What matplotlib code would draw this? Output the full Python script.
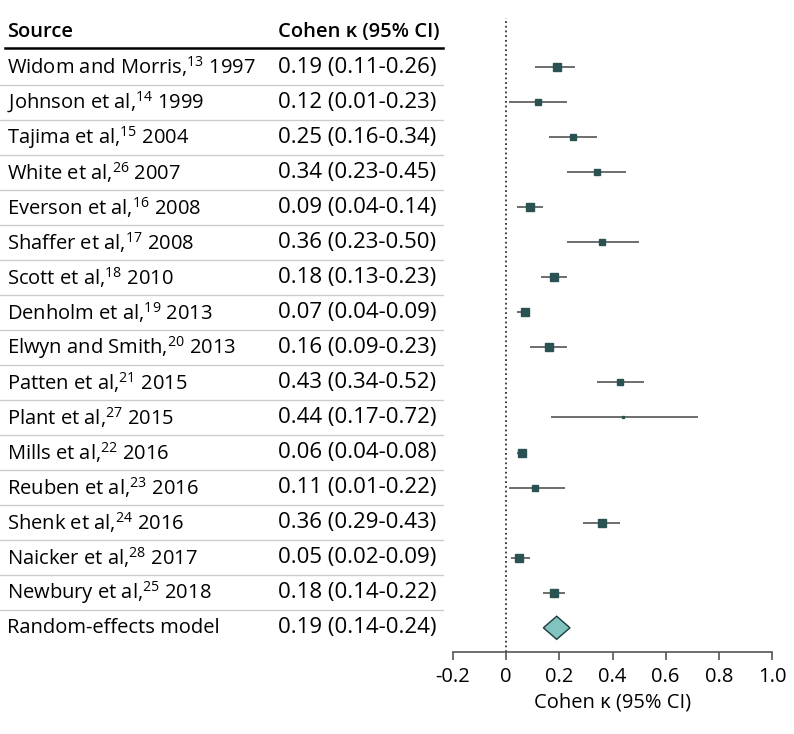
import numpy as np
import matplotlib
matplotlib.use('Agg')
import matplotlib.pyplot as plt
from matplotlib.lines import Line2D
from matplotlib.patches import Polygon
from matplotlib import transforms

# ----------------------------------------------------------------------
#  Datos
# ----------------------------------------------------------------------
sources = ['Widom and Morris', 'Johnson et al', 'Tajima et al', 'White et al',
           'Everson et al', 'Shaffer et al', 'Scott et al', 'Denholm et al',
           'Elwyn and Smith', 'Patten et al', 'Plant et al', 'Mills et al',
           'Reuben et al', 'Shenk et al', 'Naicker et al', 'Newbury et al']
refs = ['13', '14', '15', '26', '16', '17', '18', '19', '20', '21', '27',
        '22', '23', '24', '28', '25']
years = ['1997', '1999', '2004', '2007', '2008', '2008', '2010', '2013',
         '2013', '2015', '2015', '2016', '2016', '2016', '2017', '2018']
kappa = [0.19, 0.12, 0.25, 0.34, 0.09, 0.36, 0.18, 0.07, 0.16, 0.43, 0.44,
         0.06, 0.11, 0.36, 0.05, 0.18]
ci_low = [0.11, 0.01, 0.16, 0.23, 0.04, 0.23, 0.13, 0.04, 0.09, 0.34, 0.17,
          0.04, 0.01, 0.29, 0.02, 0.14]
ci_high = [0.26, 0.23, 0.34, 0.45, 0.14, 0.50, 0.23, 0.09, 0.23, 0.52, 0.72,
           0.08, 0.22, 0.43, 0.09, 0.22]
# tamaño aproximado del cuadrado (peso del estudio)
weights = [5.5, 5, 5, 4.3, 6, 4.3, 5.5, 6.2, 5.5, 5, 1.8, 6, 5, 5.5, 6, 5.8]

pooled_label = 'Random-effects model'
pooled = 0.19
pooled_low = 0.14
pooled_high = 0.24

xticks = [-0.2, 0, 0.2, 0.4, 0.6, 0.8, 1.0]
xtick_labels = ['-0.2', '0', '0.2', '0.4', '0.6', '0.8', '1.0']

plt.rcParams['font.family'] = ['Open Sans', 'DejaVu Sans']
plt.rcParams['mathtext.fontset'] = 'custom'
plt.rcParams['mathtext.rm'] = 'Open Sans'

W, H = 794, 734
fig = plt.figure(figsize=(W / 100, H / 100), dpi=100)

# eje del forest plot, en píxeles
row0, step = 67.0, 35.05
ax_top, ax_bot = 18.0, 652.0
ax_left, ax_right = 453.0, 772.0
ax = fig.add_axes([ax_left / W, 1 - ax_bot / H,
                   (ax_right - ax_left) / W, (ax_bot - ax_top) / H])
ax.set_xlim(-0.2, 1.0)
ax.set_ylim((ax_bot - row0) / step, (ax_top - row0) / step)
ax.patch.set_visible(False)

mark_col = '#2b5252'
n = len(sources)
for i in range(n):
    ax.plot([ci_low[i], ci_high[i]], [i, i], color='#555555', lw=1.2,
            solid_capstyle='butt', zorder=2)
    ax.plot(kappa[i], i, marker='s', ms=weights[i], color=mark_col,
            mec=mark_col, zorder=3)

# rombo del modelo de efectos aleatorios
yp = n
diamond = Polygon([[pooled_low, yp], [pooled, yp - 0.33],
                   [pooled_high, yp], [pooled, yp + 0.33]],
                  closed=True, facecolor='#80c3bf', edgecolor='#1f3a3a',
                  lw=1.0, zorder=3)
ax.add_patch(diamond)

ax.axvline(0, color='#333333', lw=1.3, ls=(0, (1, 1.6)), zorder=1)

for s in ['top', 'right', 'left']:
    ax.spines[s].set_visible(False)
ax.spines['bottom'].set_color('#555555')
ax.spines['bottom'].set_linewidth(1.2)
ax.set_yticks([])
ax.set_xticks(xticks)
ax.set_xticklabels(xtick_labels)
ax.tick_params(axis='x', direction='out', length=6, width=1.2,
               color='#555555', labelsize=14.5, pad=5)
ax.set_xlabel('Cohen κ (95% CI)', fontsize=14.5, labelpad=4)

# ----------------------------------------------------------------------
#  Tabla de la izquierda
# ----------------------------------------------------------------------
tr = transforms.blended_transform_factory(fig.transFigure, ax.transData)
x1, x2 = 7 / W, 278 / W
fs1, fs2 = 14.5, 16

ax.text(x1, (32 - row0) / step, 'Source', transform=tr, fontsize=fs1,
        fontweight='semibold', va='center', ha='left', clip_on=False)
ax.text(x2, (32 - row0) / step, 'Cohen κ (95% CI)', transform=tr,
        fontsize=fs1, fontweight='semibold', va='center', ha='left',
        clip_on=False)
fig.add_artist(Line2D([5 / W, 443 / W], [(48 - row0) / step] * 2,
                      transform=tr, color='black', lw=1.8))

for i in range(n):
    lab = sources[i] + r',$^{\mathrm{' + refs[i] + '}}$ ' + years[i]
    ax.text(x1, i, lab, transform=tr, fontsize=fs1, va='center', ha='left',
            clip_on=False)
    ax.text(x2, i, f'{kappa[i]:.2f} ({ci_low[i]:.2f}-{ci_high[i]:.2f})',
            transform=tr, fontsize=fs2, va='center', ha='left', clip_on=False)
    fig.add_artist(Line2D([0, 443 / W], [i + 0.5] * 2, transform=tr,
                          color='#cccccc', lw=1.0))

ax.text(x1, n, pooled_label, transform=tr, fontsize=fs1, va='center',
        ha='left', clip_on=False)
ax.text(x2, n, f'{pooled:.2f} ({pooled_low:.2f}-{pooled_high:.2f})',
        transform=tr, fontsize=fs2, va='center', ha='left', clip_on=False)

plt.savefig('out.png', dpi=100)
